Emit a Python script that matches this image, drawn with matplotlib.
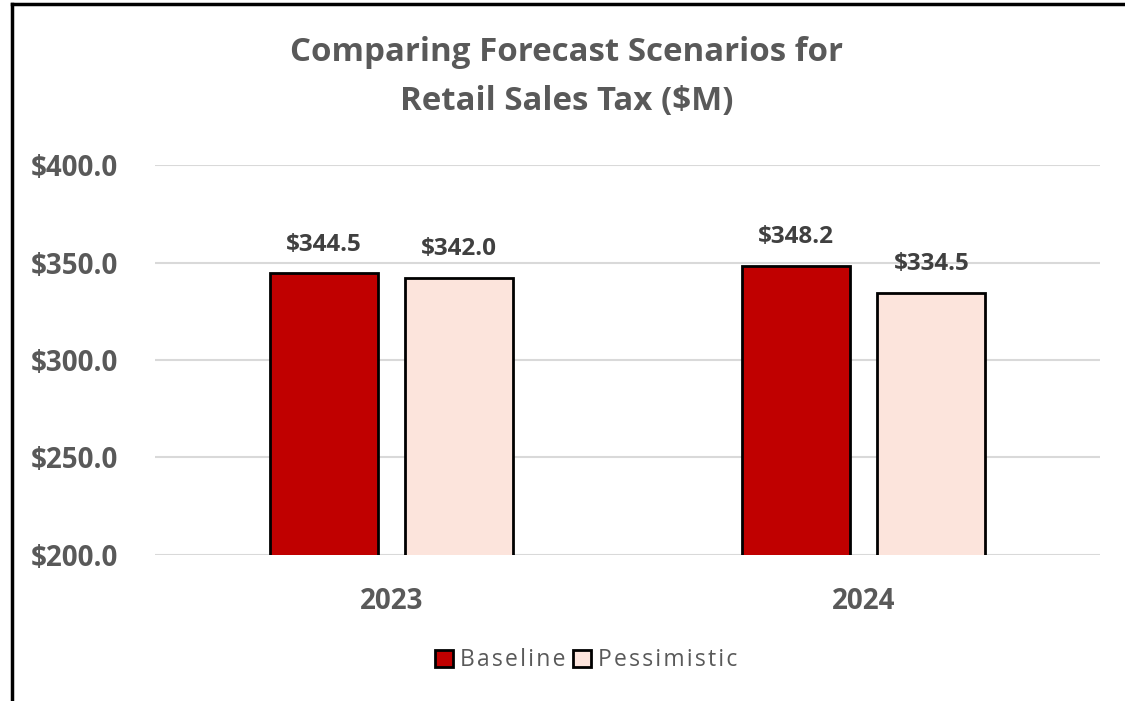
import matplotlib.pyplot as plt
from matplotlib.lines import Line2D
from matplotlib.patches import Patch
import numpy as np

plt.rcParams['font.family'] = ['Open Sans', 'DejaVu Sans']

# data
years = ["2023", "2024"]
baseline = [344.5, 348.2]
pessimistic = [342.0, 334.5]
yticks = [200, 250, 300, 350, 400]
series_names = ["Baseline", "Pessimistic"]

red = "#C00000"
pink = "#FCE4DC"
gray = "#595959"
dark = "#404040"

fig = plt.figure(figsize=(11.25, 7.01), dpi=100)
ax = fig.add_axes([0.1378, 0.2083, 0.84, 0.5563])

x = np.arange(len(years))
w = 0.229
off = 0.143
b1 = ax.bar(x - off, baseline, w, color=red, edgecolor="black", linewidth=2, zorder=3)
b2 = ax.bar(x + off, pessimistic, w, color=pink, edgecolor="black", linewidth=2, zorder=3)

# data labels
for bars, vals in [(b1, baseline), (b2, pessimistic)]:
    for r, v in zip(bars, vals):
        ax.annotate(f"${v:.1f}", (r.get_x() + r.get_width() / 2, v), xytext=(0, 12),
                    textcoords="offset points", ha="center", va="bottom",
                    fontsize=17.5, fontweight="bold", color=dark)

ax.set_xlim(-0.5, 1.5)
ax.set_ylim(200, 400)
ax.set_yticks(yticks)
ax.set_yticklabels([f"${t:.1f}" for t in yticks], fontsize=20, fontweight="bold", color=gray)
ax.tick_params(length=0)
ax.set_xticks(x)
ax.set_xticklabels(years, fontsize=20, fontweight="bold", color=gray)
ax.tick_params(axis="y", pad=26.5)
ax.tick_params(axis="x", pad=23)
ax.grid(axis="y", color="#D9D9D9", linewidth=1.5, zorder=0)
for s in ax.spines.values():
    s.set_visible(False)

fig.text(0.504, 0.948, "Comparing Forecast Scenarios for\nRetail Sales Tax ($M)",
         ha="center", va="top", fontsize=23.8, fontweight="bold", color=gray,
         linespacing=1.62)

# legend text with slight letter spacing (hair spaces)
handles = [Patch(facecolor=red, edgecolor="black", linewidth=2),
           Patch(facecolor=pink, edgecolor="black", linewidth=2)]
labels = ["\u200a".join(n) for n in series_names]
leg = fig.legend(handles, labels, loc="center",
                 bbox_to_anchor=(0.521, 0.058), ncol=2, frameon=False, fontsize=16.5,
                 handlelength=0.8, handleheight=0.8, handletextpad=0.3, columnspacing=0.3)
for t in leg.get_texts():
    t.set_color(gray)

# outer border (left and top only, as in the reference)
fig.add_artist(Line2D([0.0107, 0.0107], [0, 0.995], color="black", linewidth=2.5,
                      transform=fig.transFigure))
fig.add_artist(Line2D([0.0107, 1.0], [0.995, 0.995], color="black", linewidth=2.5,
                      transform=fig.transFigure))

fig.savefig("out.png", dpi=100)
